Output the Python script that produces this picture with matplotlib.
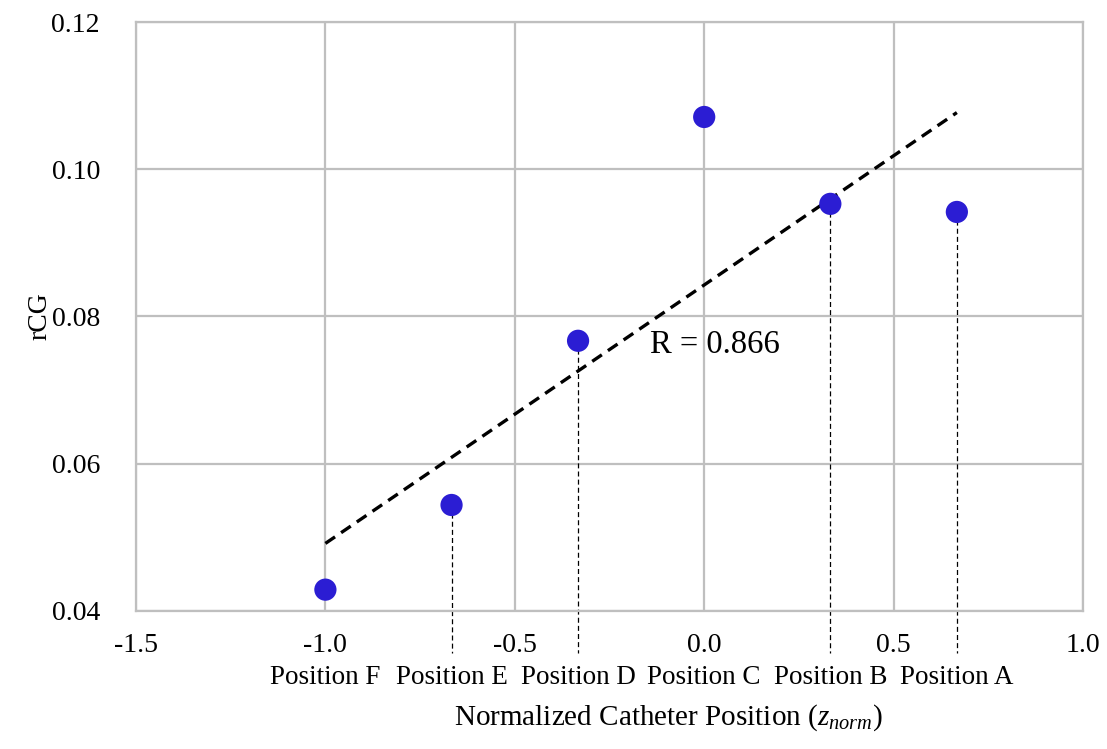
import numpy as np
import matplotlib
matplotlib.use("Agg")
import matplotlib.pyplot as plt
import matplotlib.transforms as mtransforms

plt.rcParams['font.family'] = ['Liberation Serif', 'DejaVu Serif']
plt.rcParams['mathtext.fontset'] = 'custom'
plt.rcParams['mathtext.rm'] = 'Liberation Serif'
plt.rcParams['mathtext.it'] = 'Liberation Serif:italic'

# Catheter positions (normalized) and measured rCG
z_norm = [-1.0, -0.667, -0.333, 0.0, 0.333, 0.667]
rcg = [0.0429, 0.0544, 0.0767, 0.1071, 0.0953, 0.0942]
position_labels = ["Position F", "Position E", "Position D",
                   "Position C", "Position B", "Position A"]
r_value = 0.866

x_ticks = [-1.5, -1.0, -0.5, 0.0, 0.5, 1.0]
y_ticks = [0.04, 0.06, 0.08, 0.10, 0.12]

W, H = 1107, 749
fig = plt.figure(figsize=(W / 100, H / 100), dpi=100)
ax = fig.add_axes([136 / W, 1 - 611 / H, (1083 - 136) / W, (611 - 22) / H])

grid_col = '#bfbfbf'
ax.set_xlim(-1.5, 1.0)
ax.set_ylim(0.04, 0.12)
ax.set_xticks(x_ticks)
ax.set_yticks(y_ticks)
ax.set_xticklabels([f"{v:.1f}" for v in x_ticks])
ax.set_yticklabels([f"{v:.2f}" for v in y_ticks])
ax.grid(True, color=grid_col, linewidth=1.6, zorder=0)
for s in ax.spines.values():
    s.set_color(grid_col)
    s.set_linewidth(1.6)
ax.tick_params(length=0, labelsize=20, pad=16)
ax.tick_params(axis='y', pad=26)

# Linear trendline over the data span
xs = np.array(z_norm)
ys = np.array(rcg)
slope, intercept = np.polyfit(xs, ys, 1)
xfit = np.array([xs.min(), xs.max()])
ax.plot(xfit, slope * xfit + intercept, color='black', linestyle=(0, (3.5, 2.2)),
        linewidth=2.4, zorder=3)

# Drop lines from off-grid points down to their position labels
trans = mtransforms.blended_transform_factory(ax.transData, ax.transAxes)
y_bottom = -(653 - 611) / 589
for x, y in zip(z_norm, rcg):
    if any(abs(x - t) < 1e-6 for t in x_ticks):
        continue
    y_ax = (y - 0.04) / 0.08
    ax.plot([x, x], [y_ax, y_bottom], transform=trans, color='black',
            linestyle=(0, (4, 2.5)), linewidth=0.9, clip_on=False, zorder=2)

ax.scatter(z_norm, rcg, s=16 ** 2, color='#2b1dd3', zorder=4, edgecolors='none')

label_y = -(678 - 611) / 589
for x, lab in zip(z_norm, position_labels):
    ax.text(x, label_y, lab, transform=trans, ha='center', va='center',
            fontsize=19.5, clip_on=False)

ax.text(-0.143, 0.0761, f"R = {r_value:.3f}", fontsize=23.5, ha='left', va='center')

fig.text(668 / W, 1 - 718 / H, 'Normalized Catheter Position ($z_{norm}$)',
         ha='center', va='center', fontsize=21)
fig.text(40 / W, 1 - 316 / H, 'rCG', rotation=90, ha='center', va='center',
         fontsize=20)

fig.savefig('out.png', dpi=100)
